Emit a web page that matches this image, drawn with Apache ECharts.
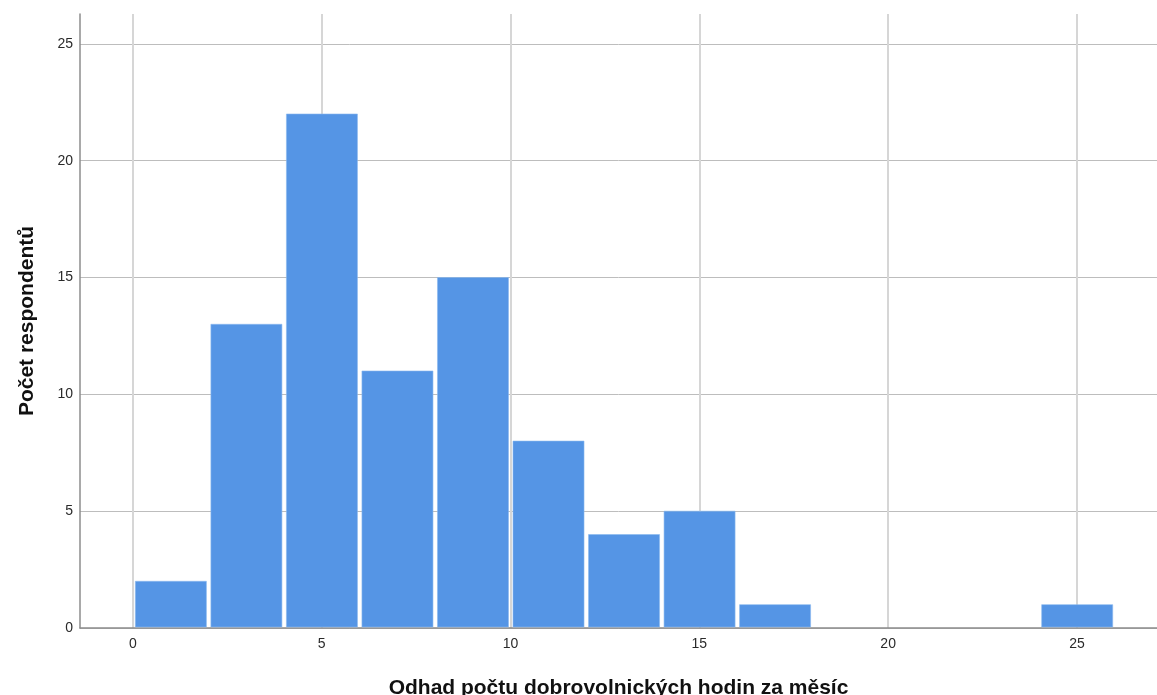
<!DOCTYPE html>
<html>
<head>
<meta charset="utf-8">
<script src="https://cdn.jsdelivr.net/npm/echarts@6/dist/echarts.min.js"></script>
<style>
html,body{margin:0;padding:0;background:#fff;overflow:hidden;}
#chart{width:1157px;height:695px;}
</style>
</head>
<body>
<div id="chart"></div>
<script>
// Histogram data: bin edges (width 2) and counts
const binStarts = [0, 2, 4, 6, 8, 10, 12, 14, 16, 18, 20, 22, 24];
const binWidth = 2;
const counts = [2, 13, 22, 11, 15, 8, 4, 5, 1, 0, 0, 0, 1];
const xTicks = [0, 5, 10, 15, 20, 25];
const yTicks = [0, 5, 10, 15, 20, 25];
const xTitle = 'Odhad počtu dobrovolnických hodin za měsíc';
const yTitle = 'Počet respondentů';

const seriesData = binStarts.map((s, i) => [s, s + binWidth, counts[i]]).filter(d => d[2] > 0);

const chart = echarts.init(document.getElementById('chart'), null, {renderer: 'canvas'});
const font = 'Liberation Sans, Arial, sans-serif';
chart.setOption({
  animation: false,
  backgroundColor: '#ffffff',
  grid: {left: 80, right: 0, top: 14, bottom: 67, containLabel: false, outerBoundsMode: 'none'},
  xAxis: {
    type: 'value',
    min: -1.4,
    max: 27.12,
    name: xTitle,
    nameLocation: 'middle',
    nameGap: 50,
    nameTextStyle: {fontFamily: font, fontSize: 21, fontWeight: 'bold', color: '#111'},
    axisLine: {show: true, onZero: false, lineStyle: {color: '#8c8c8c', width: 1.5}},
    axisTick: {show: false, customValues: xTicks},
    axisLabel: {customValues: xTicks, margin: 9, fontFamily: font, fontSize: 14, color: '#2a2a2a'},
    splitLine: {show: true, lineStyle: {color: '#d6d6d6', width: 2}}
  },
  yAxis: {
    type: 'value',
    min: 0,
    max: 26.28,
    name: yTitle,
    nameLocation: 'middle',
    nameGap: 42,
    nameTextStyle: {fontFamily: font, fontSize: 21, fontWeight: 'bold', color: '#111'},
    axisLine: {show: true, onZero: false, lineStyle: {color: '#8c8c8c', width: 1.5}},
    axisTick: {show: false, customValues: yTicks},
    axisLabel: {customValues: yTicks, margin: 7, fontFamily: font, fontSize: 14, color: '#2a2a2a'},
    splitLine: {show: true, lineStyle: {color: '#bdbdbd', width: 1}}
  },
  series: [{
    type: 'custom',
    data: seriesData,
    encode: {x: [0, 1], y: 2},
    renderItem: function (params, api) {
      const x0 = api.value(0), x1 = api.value(1), y = api.value(2);
      const pTop = api.coord([x0, y]);
      const pBot = api.coord([x1, 0]);
      return {
        type: 'rect',
        shape: {x: pTop[0] + 2.5, y: pTop[1], width: pBot[0] - pTop[0] - 4.5, height: pBot[1] - pTop[1] - 1},
        style: {fill: '#5595e5', stroke: '#8ab8ee', lineWidth: 0.6}
      };
    }
  }]
});
</script>
</body>
</html>
